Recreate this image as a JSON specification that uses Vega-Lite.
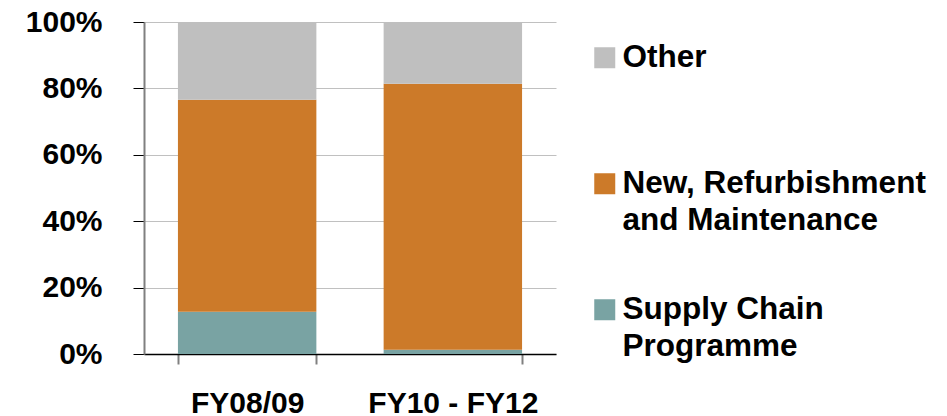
{
  "$schema": "https://vega.github.io/schema/vega-lite/v6.json",
  "width": 412,
  "height": 332,
  "autosize": {"type": "none"},
  "padding": {"left": 144, "top": 22, "right": 391, "bottom": 62},
  "background": "white",
  "data": {
    "values": [
      {"period": "FY08/09", "category": "Supply Chain Programme", "share": 12.7, "rank": 1},
      {"period": "FY08/09", "category": "New, Refurbishment and Maintenance", "share": 63.9, "rank": 2},
      {"period": "FY08/09", "category": "Other", "share": 23.4, "rank": 3},
      {"period": "FY10 - FY12", "category": "Supply Chain Programme", "share": 1.3, "rank": 1},
      {"period": "FY10 - FY12", "category": "New, Refurbishment and Maintenance", "share": 80.1, "rank": 2},
      {"period": "FY10 - FY12", "category": "Other", "share": 18.6, "rank": 3}
    ]
  },
  "config": {
    "view": {"stroke": null},
    "font": "Liberation Sans",
    "axis": {"labelFont": "Liberation Sans", "labelFontWeight": "bold", "labelColor": "black", "labelFontSize": 30}
  },
  "mark": {"type": "bar"},
  "encoding": {
    "x": {
      "field": "period",
      "type": "nominal",
      "sort": ["FY08/09", "FY10 - FY12"],
      "scale": {"paddingInner": 0.327, "paddingOuter": 0.165},
      "axis": {
        "title": null,
        "labelAngle": 0,
        "domainColor": "black",
        "domainWidth": 1.5,
        "tickColor": "#808080",
        "tickWidth": 2,
        "tickSize": 10,
        "tickBand": "extent",
        "labelPadding": 24,
        "labelBaseline": "top",
        "grid": false
      }
    },
    "y": {
      "field": "share",
      "type": "quantitative",
      "stack": "zero",
      "scale": {"domain": [0, 100], "nice": false},
      "axis": {
        "title": null,
        "values": [0, 20, 40, 60, 80, 100],
        "labelExpr": "datum.value + '%'",
        "domainColor": "#808080",
        "domainWidth": 2,
        "tickColor": "black",
        "tickWidth": 1,
        "tickSize": 11,
        "labelPadding": 31,
        "grid": true,
        "gridColor": "#C0C0C0",
        "gridWidth": 1
      }
    },
    "color": {
      "field": "category",
      "type": "nominal",
      "scale": {
        "domain": ["Other", "New, Refurbishment and Maintenance", "Supply Chain Programme"],
        "range": ["#BFBFBF", "#CC7A29", "#79A3A3"]
      },
      "legend": {
        "title": null,
        "orient": "none",
        "legendX": 445,
        "legendY": 20,
        "padding": 0,
        "symbolType": "square",
        "symbolSize": 441,
        "symbolStrokeWidth": 0,
        "symbolOpacity": 1,
        "labelFont": "Liberation Sans",
        "labelFontWeight": "bold",
        "labelFontSize": 31.5,
        "labelColor": "black",
        "labelOffset": 2,
        "labelLimit": 400,
        "labelBaseline": "middle",
        "gridAlign": "all",
        "rowPadding": 56,
        "labelExpr": "datum.label == 'New, Refurbishment and Maintenance' ? ['New, Refurbishment', 'and Maintenance'] : datum.label == 'Supply Chain Programme' ? ['Supply Chain', 'Programme'] : datum.label",
        "encode": {"labels": {"update": {"lineHeight": {"value": 37}}}}
      }
    },
    "order": {"field": "rank", "type": "quantitative", "sort": "ascending"}
  }
}
